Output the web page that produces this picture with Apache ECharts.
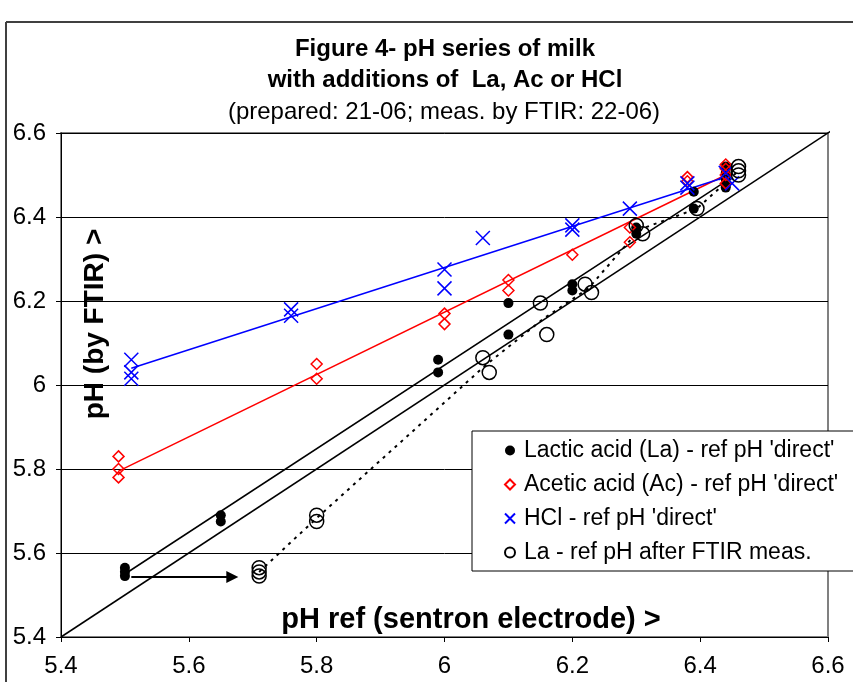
<!DOCTYPE html>
<html>
<head>
<meta charset="utf-8">
<script src="https://cdn.jsdelivr.net/npm/echarts@6/dist/echarts.min.js"></script>
<style>
html,body{margin:0;padding:0;background:#fff;}
#chart{width:853px;height:682px;}
</style>
</head>
<body>
<div id="chart"></div>
<script>
// ---- axis range ----
const axisMin = 5.4, axisMax = 6.6, axisStep = 0.2;

// ---- series values [pH ref, pH FTIR] ----
const laDirect = [[5.50,5.565],[5.50,5.555],[5.50,5.545],[5.65,5.69],[5.65,5.675],[5.99,6.06],[5.99,6.03],
  [6.10,6.195],[6.10,6.12],[6.20,6.24],[6.20,6.225],[6.30,6.375],[6.30,6.36],[6.39,6.46],[6.39,6.42],
  [6.44,6.52],[6.44,6.505],[6.44,6.49],[6.44,6.475],[6.44,6.47]];
const acDirect = [[5.49,5.83],[5.49,5.80],[5.49,5.78],[5.80,6.05],[5.80,6.015],[6.00,6.17],[6.00,6.145],
  [6.10,6.25],[6.10,6.225],[6.20,6.31],[6.29,6.375],[6.29,6.34],[6.38,6.495],[6.38,6.485],
  [6.44,6.525],[6.44,6.515],[6.44,6.50],[6.44,6.48]];
const hclDirect = [[5.51,6.06],[5.51,6.03],[5.51,6.015],[5.76,6.18],[5.76,6.165],[6.00,6.275],[6.00,6.23],
  [6.06,6.35],[6.20,6.38],[6.20,6.37],[6.29,6.42],[6.38,6.48],[6.38,6.47],[6.44,6.505],[6.45,6.48]];
const laAfter = [[5.71,5.565],[5.71,5.555],[5.71,5.545],[5.80,5.69],[5.80,5.675],[6.06,6.065],[6.07,6.03],
  [6.15,6.195],[6.16,6.12],[6.22,6.24],[6.23,6.22],[6.30,6.38],[6.31,6.36],[6.395,6.42],
  [6.46,6.52],[6.46,6.51],[6.46,6.50]];

// ---- trend lines ----
const laTrend = [[5.50,5.55],[6.44,6.485]];
const acTrend = [[5.49,5.795],[6.44,6.50]];
const hclTrend = [[5.51,6.04],[6.45,6.50]];
const laAfterTrend = [[5.71,5.555],[5.80,5.683],[6.065,6.048],[6.155,6.158],[6.225,6.23],[6.305,6.37],[6.395,6.42],[6.46,6.51]];
const identityLine = [[5.4,5.4],[6.615,6.615]];
const shiftArrow = [[5.51,5.543],[5.668,5.543]];

// ---- texts ----
const seriesNames = ["Lactic acid (La) - ref pH 'direct'", "Acetic acid (Ac) - ref pH 'direct'", "HCl - ref pH 'direct'", "La - ref pH after FTIR meas."];
const titleLines = ["Figure 4- pH series of milk", "with additions of  La, Ac or HCl", "(prepared: 21-06; meas. by FTIR: 22-06)"];
const xTitle = "pH ref (sentron electrode) >";
const yTitle = "pH (by FTIR) >";

const FONT = "'Liberation Sans', Arial, sans-serif";
const xMark = 'path://M0,0L10,10M0,10L10,0';

const chart = echarts.init(document.getElementById('chart'), null, {renderer:'canvas'});

function trend(data, color, type, width) {
  return {type:'line', data:data, showSymbol:false, symbol:'none', silent:true, z:1,
    lineStyle:{color:color, width:width||1.5, type:type||'solid'}, animation:false};
}

chart.setOption({
  animation:false,
  backgroundColor:'#fff',
  grid:{left:61, right:25, top:133, bottom:45, show:true, borderColor:'#808080', borderWidth:2, backgroundColor:'transparent'},
  xAxis:{type:'value', min:axisMin, max:axisMax, interval:axisStep,
    axisLine:{lineStyle:{color:'#000', width:1}},
    axisTick:{show:true, inside:false, length:5, lineStyle:{color:'#000'}},
    axisLabel:{color:'#000', fontSize:24, fontFamily:FONT, margin:17},
    splitLine:{show:false}},
  yAxis:{type:'value', min:axisMin, max:axisMax, interval:axisStep,
    axisLine:{show:true, lineStyle:{color:'#000', width:1}},
    axisTick:{show:true, inside:false, length:5, lineStyle:{color:'#000'}},
    axisLabel:{color:'#000', fontSize:24, fontFamily:FONT, margin:15},
    splitLine:{show:true, lineStyle:{color:'#000', width:1}}},
  legend:{
    orient:'vertical', left:472, top:431,
    padding:[8,20,7,32], itemGap:11, itemWidth:10, itemHeight:10,
    backgroundColor:'#fff', borderColor:'#000', borderWidth:1,
    textStyle:{color:'#000', fontSize:23, fontFamily:FONT, padding:[0,0,0,4]},
    data:seriesNames,
    selectedMode:false
  },
  series:[
    {type:'line', data:identityLine, showSymbol:false, symbol:'none', silent:true, clip:false, z:1,
      lineStyle:{color:'#000', width:1.5}},
    trend(laTrend, '#000'),
    trend(acTrend, '#ff0000'),
    trend(hclTrend, '#0000ff'),
    trend(laAfterTrend, '#000', [3,5], 2),
    {type:'line', silent:true, z:1, lineStyle:{color:'#000', width:2},
      data:[{value:shiftArrow[0], symbol:'none'},
            {value:shiftArrow[1], symbol:'triangle', symbolSize:[12,12], symbolRotate:-90,
             itemStyle:{color:'#000'}}]},
    {name:seriesNames[0], type:'scatter', data:laDirect, symbol:'circle', symbolSize:10, z:3,
      itemStyle:{color:'#000', opacity:1}},
    {name:seriesNames[1], type:'scatter', data:acDirect, symbol:'diamond', symbolSize:11, z:3,
      itemStyle:{color:'rgba(255,255,255,0)', borderColor:'#ff0000', borderWidth:1.5, opacity:1}},
    {name:seriesNames[2], type:'scatter', data:hclDirect, symbol:xMark, symbolSize:14, z:3,
      itemStyle:{color:'#0000ff', borderColor:'#0000ff', borderWidth:1.5, opacity:1}},
    {name:seriesNames[3], type:'scatter', data:laAfter, symbol:'circle', symbolSize:14, z:3,
      itemStyle:{color:'rgba(255,255,255,0)', borderColor:'#000', borderWidth:1.5, opacity:1}}
  ],
  graphic:[
    {type:'line', shape:{x1:6, y1:22, x2:853, y2:22}, style:{stroke:'#404040', lineWidth:2}, silent:true},
    {type:'line', shape:{x1:6, y1:22, x2:6, y2:682}, style:{stroke:'#404040', lineWidth:2}, silent:true},
    {type:'text', x:445, y:49, style:{text:titleLines[0], font:"bold 24px "+FONT, fill:'#000', textAlign:'center', textVerticalAlign:'middle'}},
    {type:'text', x:445, y:80, style:{text:titleLines[1], font:"bold 24px "+FONT, fill:'#000', textAlign:'center', textVerticalAlign:'middle'}},
    {type:'text', x:444, y:112, style:{text:titleLines[2], font:"24px "+FONT, fill:'#000', textAlign:'center', textVerticalAlign:'middle'}},
    {type:'text', x:471, y:620, z:10, style:{text:xTitle, font:"bold 29px "+FONT, fill:'#000', textAlign:'center', textVerticalAlign:'middle'}},
    {type:'text', x:95, y:324, rotation:Math.PI/2, z:10, style:{text:yTitle, font:"bold 28px "+FONT, fill:'#000', textAlign:'center', textVerticalAlign:'middle'}}
  ]
});
</script>
</body>
</html>
